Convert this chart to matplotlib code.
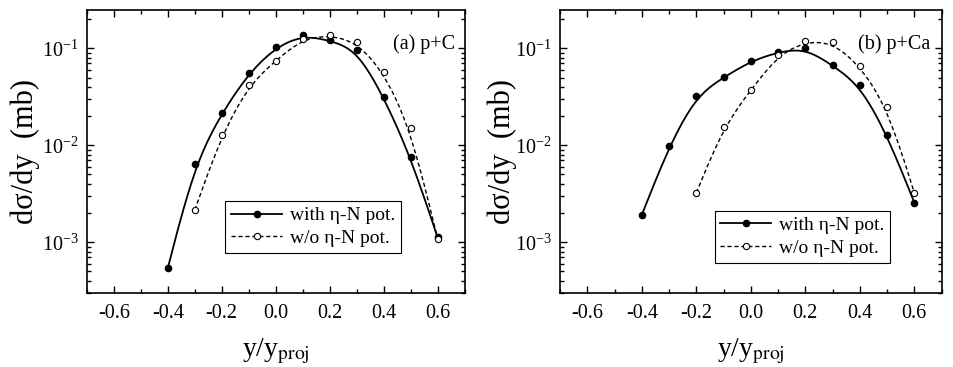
import numpy as np
import matplotlib
matplotlib.use("Agg")
import matplotlib.pyplot as plt
from matplotlib.lines import Line2D
from matplotlib.ticker import MultipleLocator, LogLocator, NullFormatter

plt.rcParams['font.family'] = ['Liberation Serif', 'DejaVu Serif']
plt.rcParams['mathtext.fontset'] = 'stix'
plt.rcParams['axes.unicode_minus'] = False

# rapidity points (y/y_proj)
x_pC_with = [-0.4, -0.3, -0.2, -0.1, 0.0, 0.1, 0.2, 0.3, 0.4, 0.5, 0.6]
pC_with = [5.4e-4, 6.4e-3, 0.0215, 0.0555, 0.103, 0.137, 0.121, 0.097, 0.0318, 0.0076, 1.12e-3]
x_pC_wo = [-0.3, -0.2, -0.1, 0.0, 0.1, 0.2, 0.3, 0.4, 0.5, 0.6]
pC_wo = [2.15e-3, 0.0129, 0.0416, 0.075, 0.126, 0.137, 0.117, 0.057, 0.015, 1.08e-3]

x_pCa_with = [-0.4, -0.3, -0.2, -0.1, 0.0, 0.1, 0.2, 0.3, 0.4, 0.5, 0.6]
pCa_with = [1.91e-3, 9.8e-3, 0.0325, 0.0502, 0.074, 0.0917, 0.1007, 0.0668, 0.0418, 0.0129, 2.56e-3]
x_pCa_wo = [-0.2, -0.1, 0.0, 0.1, 0.2, 0.3, 0.4, 0.5, 0.6]
pCa_wo = [3.23e-3, 0.0155, 0.0372, 0.0853, 0.118, 0.116, 0.0662, 0.0251, 3.23e-3]

panels = [
    ("(a) p+C", x_pC_with, pC_with, x_pC_wo, pC_wo),
    ("(b) p+Ca", x_pCa_with, pCa_with, x_pCa_wo, pCa_wo),
]


def bspline(x, y, n=30):
    # smooth cubic B-spline through the points (log scale in y), ends clamped
    px = np.r_[[x[0]] * 2, x, [x[-1]] * 2]
    py = np.r_[[np.log10(y[0])] * 2, np.log10(y), [np.log10(y[-1])] * 2]
    t = np.linspace(0, 1, n)
    b0 = (1 - t) ** 3 / 6
    b1 = (3 * t**3 - 6 * t**2 + 4) / 6
    b2 = (-3 * t**3 + 3 * t**2 + 3 * t + 1) / 6
    b3 = t**3 / 6
    xs, ys = [], []
    for i in range(len(px) - 3):
        xs.append(b0 * px[i] + b1 * px[i+1] + b2 * px[i+2] + b3 * px[i+3])
        ys.append(b0 * py[i] + b1 * py[i+1] + b2 * py[i+2] + b3 * py[i+3])
    return np.concatenate(xs), 10 ** np.concatenate(ys)


fig = plt.figure(figsize=(9.54, 3.67), dpi=100)
rects = [[0.091, 0.202, 0.396, 0.771], [0.587, 0.202, 0.400, 0.771]]
leg_pos = [(0.367, 0.325), (0.405, 0.29)]
ylab_x = [-0.124, -0.113]
title_x = [0.974, 0.969]

for k, (title, xw, yw, xo, yo) in enumerate(panels):
    ax = fig.add_axes(rects[k])
    sx, sy = bspline(xw, yw)
    ax.plot(sx, sy, '-', color='black', lw=1.3)
    sx, sy = bspline(xo, yo)
    ax.plot(sx, sy, '--', color='black', lw=1.0, dashes=(3, 2))
    ax.plot(xw, yw, 'o', color='black', ms=4.5, ls='none')
    ax.plot(xo, yo, 'o', mfc='white', mec='black', mew=0.8, ms=4.5, ls='none')

    ax.set_yscale('log')
    ax.set_xlim(-0.7, 0.7)
    ax.set_ylim(3e-4, 0.25)
    ax.xaxis.set_major_locator(MultipleLocator(0.2))
    ax.xaxis.set_minor_locator(MultipleLocator(0.1))
    ax.xaxis.set_major_formatter(plt.FuncFormatter(lambda v, p: f"{v:.1f}"))
    ax.yaxis.set_major_locator(LogLocator(base=10, numticks=10))
    ax.yaxis.set_minor_locator(LogLocator(base=10, subs=np.arange(2, 10), numticks=10))
    ax.yaxis.set_minor_formatter(NullFormatter())
    ax.tick_params(which='both', direction='in', top=True, right=True, width=1.0)
    ax.tick_params(which='major', length=5, labelsize=14.5, pad=6)
    ax.tick_params(axis='x', which='major', pad=8)
    ax.tick_params(which='minor', length=3)
    for s in ax.spines.values():
        s.set_linewidth(1.2)

    ax.set_ylabel('dσ/dy  (mb)', fontsize=22)
    ax.yaxis.set_label_coords(ylab_x[k], 0.5)
    ax.set_xlabel(r'y/y$_{\mathrm{proj}}$', fontsize=20)
    ax.xaxis.set_label_coords(0.5, -0.155)
    ax.text(title_x[k], 0.88, title, transform=ax.transAxes, ha='right', va='center', fontsize=14.5)

    handles = [
        Line2D([], [], color='black', lw=1.3, marker='o', ms=4.5),
        Line2D([], [], color='black', lw=1.0, ls='--', dashes=(3, 2), marker='o',
               mfc='white', mec='black', mew=0.8, ms=4.5),
    ]
    leg = ax.legend(handles, ['with η-N pot.', 'w/o η-N pot.'], loc='upper left',
                    bbox_to_anchor=leg_pos[k], borderaxespad=0, fontsize=14,
                    handlelength=2.6, handletextpad=0.4, borderpad=0.3,
                    labelspacing=0.25, fancybox=False, framealpha=1)
    leg.get_frame().set_edgecolor('black')
    leg.get_frame().set_linewidth(0.8)

plt.savefig('out.png', dpi=100)
